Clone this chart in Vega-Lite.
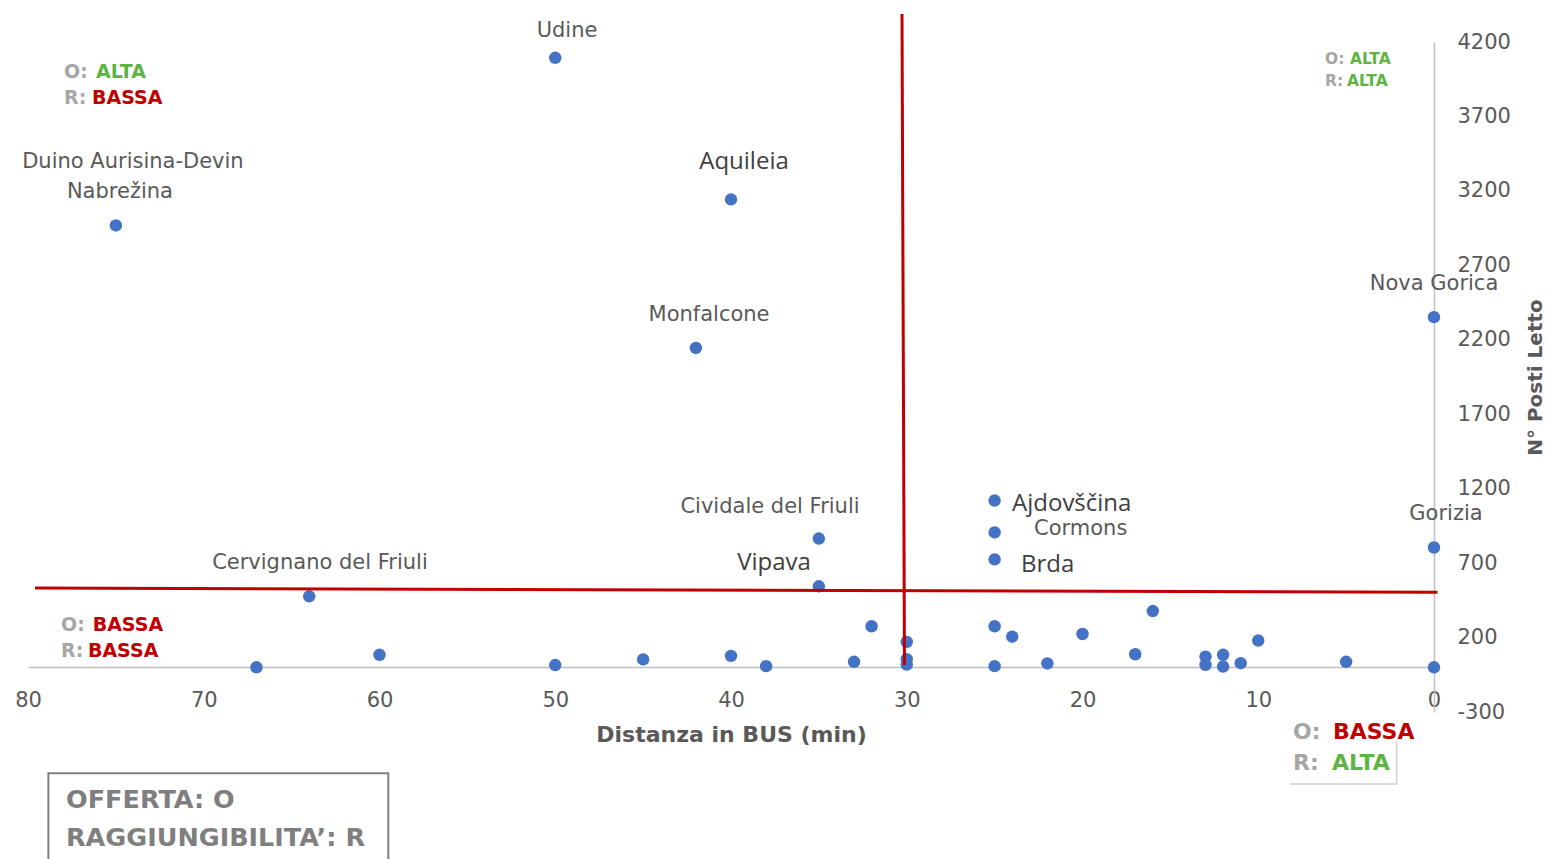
{
  "$schema": "https://vega.github.io/schema/vega-lite/v6.json",
  "autosize": {"type": "none"},
  "width": 1406,
  "height": 670,
  "padding": {"left": 28, "top": 42, "right": 113, "bottom": 147},
  "background": "white",
  "config": {"view": {"stroke": null}, "font": "DejaVu Sans"},
  "datasets": {
    "points": [
      {"name": "Udine", "x": 50, "y": 4094},
      {"name": "Aquileia", "x": 40, "y": 3143},
      {"name": "Duino Aurisina-Devin Nabrežina", "x": 75, "y": 2968},
      {"name": "Monfalcone", "x": 42, "y": 2145},
      {"name": "Nova Gorica", "x": 0, "y": 2352},
      {"name": "Gorizia", "x": 0, "y": 805},
      {"name": "Ajdovščina", "x": 25, "y": 1120},
      {"name": "Cormons", "x": 25, "y": 906},
      {"name": "Brda", "x": 25, "y": 725},
      {"name": "Cividale del Friuli", "x": 35, "y": 865},
      {"name": "Vipava", "x": 35, "y": 544},
      {"name": "Cervignano del Friuli", "x": 64, "y": 477},
      {"name": "", "x": 67, "y": 0},
      {"name": "", "x": 60, "y": 84},
      {"name": "", "x": 50, "y": 15},
      {"name": "", "x": 45, "y": 53},
      {"name": "", "x": 40, "y": 77},
      {"name": "", "x": 38, "y": 8},
      {"name": "", "x": 33, "y": 37},
      {"name": "", "x": 32, "y": 276},
      {"name": "", "x": 30, "y": 171},
      {"name": "", "x": 30, "y": 55},
      {"name": "", "x": 30, "y": 19},
      {"name": "", "x": 25, "y": 276},
      {"name": "", "x": 25, "y": 8},
      {"name": "", "x": 24, "y": 206},
      {"name": "", "x": 22, "y": 26},
      {"name": "", "x": 20, "y": 224},
      {"name": "", "x": 17, "y": 88},
      {"name": "", "x": 16, "y": 378},
      {"name": "", "x": 13, "y": 72},
      {"name": "", "x": 13, "y": 17},
      {"name": "", "x": 12, "y": 84},
      {"name": "", "x": 12, "y": 5},
      {"name": "", "x": 11, "y": 28},
      {"name": "", "x": 10, "y": 180},
      {"name": "", "x": 5, "y": 37},
      {"name": "", "x": 0, "y": 0}
    ],
    "labels": [
      {"label": "Udine", "g": "stdc", "x": 49.33, "y": 4273},
      {"label": "Duino Aurisina-Devin", "g": "stdc", "x": 74.03, "y": 3394},
      {"label": "Nabrežina", "g": "stdc", "x": 74.77, "y": 3192},
      {"label": "Monfalcone", "g": "stdc", "x": 41.25, "y": 2366},
      {"label": "Nova Gorica", "g": "stdc", "x": 0, "y": 2574},
      {"label": "Gorizia", "g": "stdc", "x": -0.68, "y": 1030},
      {"label": "Cividale del Friuli", "g": "stdc", "x": 37.78, "y": 1077},
      {"label": "Cervignano del Friuli", "g": "stdc", "x": 63.39, "y": 700},
      {"label": "Cormons", "g": "stdl", "x": 22.76, "y": 929},
      {"label": "Aquileia", "g": "bigc", "x": 39.26, "y": 3394},
      {"label": "Vipava", "g": "bigc", "x": 37.55, "y": 700},
      {"label": "Ajdovščina", "g": "bigl", "x": 24.01, "y": 1097},
      {"label": "Brda", "g": "bigl", "x": 23.5, "y": 687}
    ],
    "quads": [
      {"label": "O:", "q": "TL", "x": 77.95, "y": 3998},
      {"label": "ALTA", "q": "TL", "x": 76.13, "y": 3998},
      {"label": "R:", "q": "TL", "x": 77.95, "y": 3823},
      {"label": "BASSA", "q": "TL", "x": 76.36, "y": 3823},
      {"label": "O:", "q": "TR", "x": 6.2, "y": 4083},
      {"label": "ALTA", "q": "TR", "x": 4.78, "y": 4083},
      {"label": "R:", "q": "TR", "x": 6.2, "y": 3940},
      {"label": "ALTA", "q": "TR", "x": 4.95, "y": 3940},
      {"label": "O:", "q": "BL", "x": 78.12, "y": 284},
      {"label": "BASSA", "q": "BL", "x": 76.32, "y": 284},
      {"label": "R:", "q": "BL", "x": 78.12, "y": 111},
      {"label": "BASSA", "q": "BL", "x": 76.59, "y": 111},
      {"label": "O:", "q": "BR", "x": 8.02, "y": -432},
      {"label": "BASSA", "q": "BR", "x": 5.75, "y": -432},
      {"label": "R:", "q": "BR", "x": 8.02, "y": -643},
      {"label": "ALTA", "q": "BR", "x": 5.8, "y": -643}
    ],
    "redlines": [
      {"x": 79.6, "y": 532, "x2": -0.2, "y2": 505},
      {"x": 30.27, "y": 4388, "x2": 30.13, "y2": 15}
    ],
    "graylines": [
      {"x": 2.13, "y": -495, "x2": 2.13, "y2": -790},
      {"x": 8.19, "y": -783, "x2": 2.13, "y2": -783}
    ],
    "box": [
      {"x": 78.84, "y": -712, "x2": 59.5, "y2": -1400}
    ],
    "boxtext": [
      {"label": "OFFERTA: O", "x": 77.84, "y": -890},
      {"label": "RAGGIUNGIBILITA’: R", "x": 77.84, "y": -1145}
    ]
  },
  "encoding": {
    "x": {
      "field": "x", "type": "quantitative",
      "scale": {"domain": [0, 80], "reverse": true, "zero": false, "nice": false},
      "axis": {
        "title": "Distanza in BUS (min)",
        "values": [0, 10, 20, 30, 40, 50, 60, 70, 80],
        "labelExpr": "'' + datum.value",
        "offset": -45, "ticks": false, "grid": false,
        "domainColor": "#BFBFBF", "domainWidth": 1.5,
        "labelFontSize": 21, "labelColor": "#595959", "labelPadding": 22,
        "labelFlush": false, "labelOverlap": false, "labelFont": "DejaVu Sans",
        "titleFontSize": 22, "titleFontWeight": "bold", "titleColor": "#595959",
        "titlePadding": 14, "titleFont": "DejaVu Sans"
      }
    },
    "y": {
      "field": "y", "type": "quantitative",
      "scale": {"domain": [-300, 4200], "zero": false, "nice": false},
      "axis": {
        "orient": "right",
        "title": "N° Posti Letto",
        "values": [-300, 200, 700, 1200, 1700, 2200, 2700, 3200, 3700, 4200],
        "labelExpr": "'' + datum.value",
        "ticks": false, "grid": false,
        "domainColor": "#BFBFBF", "domainWidth": 1.5,
        "labelFontSize": 21, "labelColor": "#595959", "labelPadding": 23,
        "labelAlign": "left", "labelFlush": false, "labelOverlap": false, "labelFont": "DejaVu Sans",
        "titleAngle": 270, "titleBaseline": "top", "titleFontSize": 20, "titleFontWeight": "bold",
        "titleColor": "#595959", "titlePadding": 15, "titleFont": "DejaVu Sans"
      }
    }
  },
  "layer": [
    {
      "data": {"name": "box"},
      "mark": {"type": "rect", "stroke": "#7F7F7F", "strokeWidth": 2, "fillOpacity": 0, "fill": "white"},
      "encoding": {"x2": {"field": "x2"}, "y2": {"field": "y2"}}
    },
    {
      "data": {"name": "graylines"},
      "mark": {"type": "rule", "color": "#D0D0D0", "strokeWidth": 1.5},
      "encoding": {"x2": {"field": "x2"}, "y2": {"field": "y2"}}
    },
    {
      "data": {"name": "points"},
      "mark": {"type": "circle", "size": 155, "color": "#4472C4", "opacity": 1},
      "encoding": {}
    },
    {
      "data": {"name": "redlines"},
      "mark": {"type": "rule", "color": "#C00000", "strokeWidth": 3},
      "encoding": {"x2": {"field": "x2"}, "y2": {"field": "y2"}}
    },
    {
      "data": {"name": "labels"},
      "transform": [{"filter": "datum.g === 'stdc'"}],
      "mark": {"type": "text", "font": "DejaVu Sans", "fontSize": 21, "color": "#595959", "align": "center", "baseline": "middle"},
      "encoding": {"text": {"field": "label"}}
    },
    {
      "data": {"name": "labels"},
      "transform": [{"filter": "datum.g === 'stdl'"}],
      "mark": {"type": "text", "font": "DejaVu Sans", "fontSize": 21, "color": "#595959", "align": "left", "baseline": "middle"},
      "encoding": {"text": {"field": "label"}}
    },
    {
      "data": {"name": "labels"},
      "transform": [{"filter": "datum.g === 'bigc'"}],
      "mark": {"type": "text", "font": "Open Sans", "fontSize": 24, "color": "#404040", "align": "center", "baseline": "middle"},
      "encoding": {"text": {"field": "label"}}
    },
    {
      "data": {"name": "labels"},
      "transform": [{"filter": "datum.g === 'bigl'"}],
      "mark": {"type": "text", "font": "Open Sans", "fontSize": 24, "color": "#404040", "align": "left", "baseline": "middle"},
      "encoding": {"text": {"field": "label"}}
    },
    {
      "data": {"name": "quads"},
      "transform": [{"filter": "datum.q === 'TL'"}],
      "mark": {"type": "text", "font": "DejaVu Sans", "fontWeight": "bold", "fontSize": 19, "align": "left", "baseline": "middle"},
      "encoding": {
        "text": {"field": "label"},
        "color": {"field": "label", "type": "nominal", "scale": {"domain": ["O:", "R:", "ALTA", "BASSA"], "range": ["#A6A6A6", "#A6A6A6", "#5EB443", "#C00000"]}, "legend": null}
      }
    },
    {
      "data": {"name": "quads"},
      "transform": [{"filter": "datum.q === 'TR'"}],
      "mark": {"type": "text", "font": "DejaVu Sans", "fontWeight": "bold", "fontSize": 15.5, "align": "left", "baseline": "middle"},
      "encoding": {
        "text": {"field": "label"},
        "color": {"field": "label", "type": "nominal", "scale": {"domain": ["O:", "R:", "ALTA", "BASSA"], "range": ["#A6A6A6", "#A6A6A6", "#5EB443", "#C00000"]}, "legend": null}
      }
    },
    {
      "data": {"name": "quads"},
      "transform": [{"filter": "datum.q === 'BL'"}],
      "mark": {"type": "text", "font": "DejaVu Sans", "fontWeight": "bold", "fontSize": 19, "align": "left", "baseline": "middle"},
      "encoding": {
        "text": {"field": "label"},
        "color": {"field": "label", "type": "nominal", "scale": {"domain": ["O:", "R:", "ALTA", "BASSA"], "range": ["#A6A6A6", "#A6A6A6", "#5EB443", "#C00000"]}, "legend": null}
      }
    },
    {
      "data": {"name": "quads"},
      "transform": [{"filter": "datum.q === 'BR'"}],
      "mark": {"type": "text", "font": "DejaVu Sans", "fontWeight": "bold", "fontSize": 22, "align": "left", "baseline": "middle"},
      "encoding": {
        "text": {"field": "label"},
        "color": {"field": "label", "type": "nominal", "scale": {"domain": ["O:", "R:", "ALTA", "BASSA"], "range": ["#A6A6A6", "#A6A6A6", "#5EB443", "#C00000"]}, "legend": null}
      }
    },
    {
      "data": {"name": "boxtext"},
      "mark": {"type": "text", "font": "DejaVu Sans", "fontWeight": "bold", "fontSize": 25.5, "color": "#7F7F7F", "align": "left", "baseline": "middle"},
      "encoding": {"text": {"field": "label"}}
    }
  ]
}
